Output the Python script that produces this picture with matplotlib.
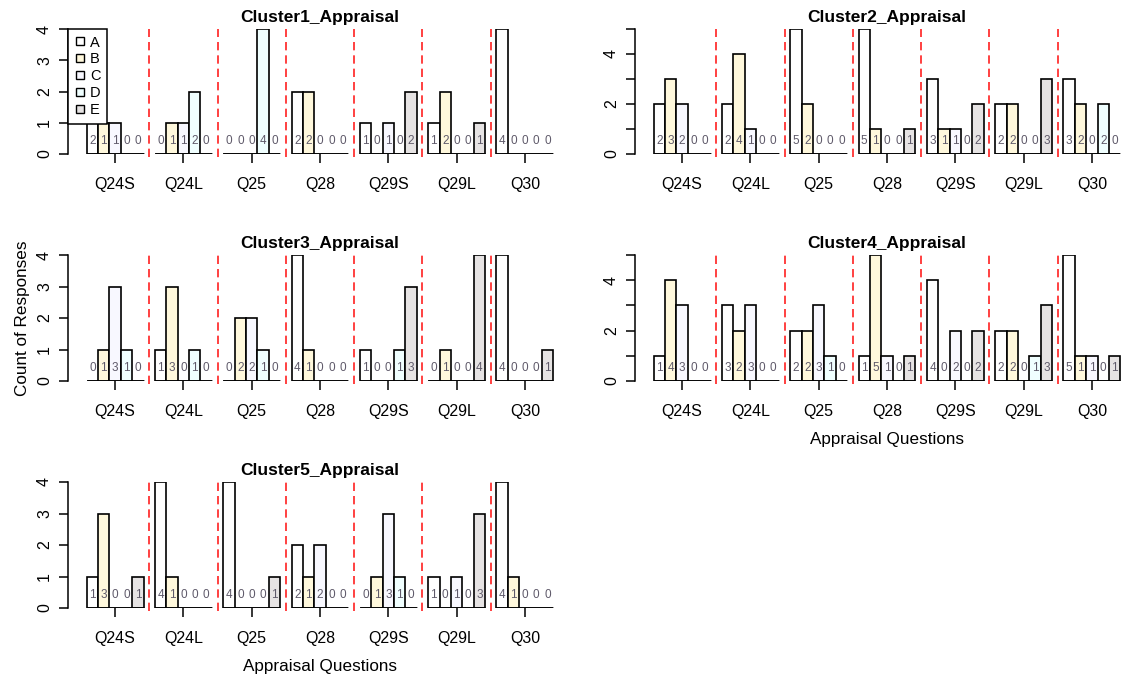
import numpy as np
import matplotlib.pyplot as plt
from matplotlib.lines import Line2D
from matplotlib.transforms import offset_copy

plt.rcParams['font.family'] = ['Liberation Sans', 'DejaVu Sans']

# counts per question, columns are answers A..E
questions = ['Q24S', 'Q24L', 'Q25', 'Q28', 'Q29S', 'Q29L', 'Q30']
options = ['A', 'B', 'C', 'D', 'E']

cluster1 = [[2, 1, 1, 0, 0], [0, 1, 1, 2, 0], [0, 0, 0, 4, 0], [2, 2, 0, 0, 0],
            [1, 0, 1, 0, 2], [1, 2, 0, 0, 1], [4, 0, 0, 0, 0]]
cluster2 = [[2, 3, 2, 0, 0], [2, 4, 1, 0, 0], [5, 2, 0, 0, 0], [5, 1, 0, 0, 1],
            [3, 1, 1, 0, 2], [2, 2, 0, 0, 3], [3, 2, 0, 2, 0]]
cluster3 = [[0, 1, 3, 1, 0], [1, 3, 0, 1, 0], [0, 2, 2, 1, 0], [4, 1, 0, 0, 0],
            [1, 0, 0, 1, 3], [0, 1, 0, 0, 4], [4, 0, 0, 0, 1]]
cluster4 = [[1, 4, 3, 0, 0], [3, 2, 3, 0, 0], [2, 2, 3, 1, 0], [1, 5, 1, 0, 1],
            [4, 0, 2, 0, 2], [2, 2, 0, 1, 3], [5, 1, 1, 0, 1]]
cluster5 = [[1, 3, 0, 0, 1], [4, 1, 0, 0, 0], [4, 0, 0, 0, 1], [2, 1, 2, 0, 0],
            [0, 1, 3, 1, 0], [1, 0, 1, 0, 3], [4, 1, 0, 0, 0]]

colours = ['white', '#FFF8DC', '#F8F8FF', '#F0FFFF', '#E6E3E3']
num_col = '#5F5A6A'

W, H = 1124, 678
fig = plt.figure(figsize=(W / 100, H / 100), dpi=100)


def add_panel(left, top, right, bottom):
    return fig.add_axes([left / W, 1 - bottom / H, (right - left) / W, (bottom - top) / H])


def draw(ax, name, counts, legend=False, xlabel=False, ylabel=False):
    counts = np.array(counts)
    nq, no = counts.shape
    starts = 1 + (no + 1) * np.arange(nq)
    for j in range(no):
        ax.bar(starts + j, counts[:, j], width=1, align='edge', color=colours[j],
               edgecolor='black', linewidth=1.2, zorder=2)
    # bottom edges of the bars (empty bars collapse onto this line)
    ax.hlines(np.zeros(nq), starts, starts + no, colors='black', linewidth=1.8, zorder=2.5)
    ymax = counts.max()
    span = starts[-1] + no - 1
    ax.set_xlim(1 - 0.04 * span, starts[-1] + no + 0.04 * span)
    ax.set_ylim(0, ymax)

    for k in range(nq):
        for j in range(no):
            ax.text(starts[k] + j + 0.5, 0.1 * ymax, str(counts[k, j]), ha='center', va='center',
                    fontsize=8.5, color=num_col, zorder=3)

    ax.vlines(starts[1:] - 0.5, -0.025 * ymax, ymax, colors='#FF2020', linestyles=(0, (5, 3)),
              linewidth=1.2, clip_on=False, zorder=1)

    for s in ['top', 'right', 'bottom']:
        ax.spines[s].set_visible(False)
    ax.spines['left'].set_bounds(0, ymax)
    ax.spines['left'].set_linewidth(1.1)

    yt = np.arange(0, ymax + 1)
    ax.set_yticks(yt)
    ax.set_yticklabels([str(v) if (ymax < 5 or v % 2 == 0) else '' for v in yt],
                       rotation=90, va='center', fontsize=11.5)
    ax.set_xticks(starts + no / 2)
    ax.set_xticklabels(questions, fontsize=11.5)
    ax.tick_params(axis='both', length=6.5, width=1.1, direction='out')
    ax.tick_params(axis='x', pad=10)
    ax.tick_params(axis='y', pad=5)

    title_tr = offset_copy(ax.transAxes, fig=fig, y=4, units='dots')
    ax.text(0.5, 1.0, name, transform=title_tr, ha='center', va='bottom',
            fontsize=12.5, fontweight='bold')
    if xlabel:
        ax.set_xlabel('Appraisal Questions', fontsize=12.3, labelpad=9.5)
    if ylabel:
        ax.set_ylabel('Count of Responses', fontsize=12.3, labelpad=5)
    if legend:
        handles = [Line2D([], [], marker='s', linestyle='none', markersize=5.5,
                          markerfacecolor=c, markeredgecolor='black', markeredgewidth=1)
                   for c in colours]
        leg = ax.legend(handles, options, loc='upper left', bbox_to_anchor=(0, 1),
                        borderaxespad=0, fancybox=False, framealpha=1, edgecolor='black',
                        fontsize=10.5, labelspacing=0.2, handlelength=0.7,
                        handletextpad=0.35, borderpad=0.45)
        leg.get_frame().set_linewidth(1.1)
        leg.set_zorder(5)


panels = [
    ('Cluster1_Appraisal', cluster1, (68, 29, 572, 154), dict(legend=True)),
    ('Cluster2_Appraisal', cluster2, (635, 29, 1139, 154), {}),
    ('Cluster3_Appraisal', cluster3, (68, 255, 572, 381), dict(ylabel=True)),
    ('Cluster4_Appraisal', cluster4, (635, 255, 1139, 381), dict(xlabel=True)),
    ('Cluster5_Appraisal', cluster5, (68, 482, 572, 608), dict(xlabel=True)),
]
for name, data, box, opts in panels:
    ax = add_panel(*box)
    draw(ax, name, data, **opts)

fig.savefig('out.png', dpi=100)
